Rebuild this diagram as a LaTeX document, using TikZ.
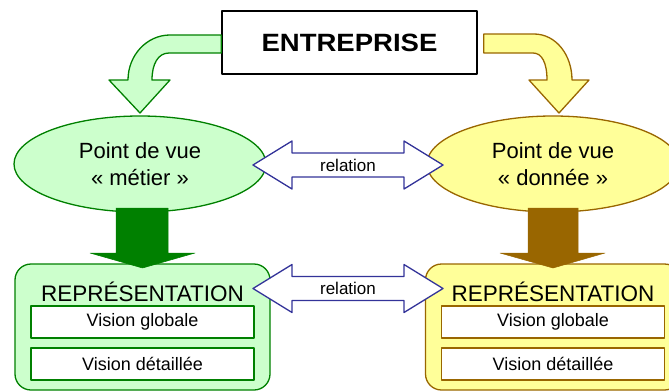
\documentclass[tikz,border=0pt]{standalone}
\usepackage{fontspec}
\setmainfont{Liberation Sans}
\usetikzlibrary{shapes.geometric}

\definecolor{mintfill}{HTML}{CCFFCC}
\definecolor{leafline}{HTML}{008000}
\definecolor{lemonfill}{HTML}{FFFF99}
\definecolor{ochreline}{HTML}{996600}
\definecolor{relblue}{HTML}{333399}

\begin{document}
\begin{tikzpicture}[x=1pt,y=-1pt,line join=round,
  titlebox/.style={draw=black,line width=1.4pt,fill=white,minimum width=255pt,
    minimum height=63pt,inner sep=0pt,font=\fontsize{25}{28}\selectfont\bfseries},
  viewpoint/.style={ellipse,minimum width=252pt,minimum height=96pt,inner sep=0pt,
    line width=1.3pt,align=center,font=\fontsize{22}{27}\selectfont},
  reprbox/.style={rounded corners=16pt,minimum width=255pt,minimum height=126pt,
    inner sep=0pt,line width=1.3pt},
  reprtitle/.style={anchor=base,inner sep=0pt,font=\fontsize{22.5}{26}\selectfont},
  visionbox/.style={fill=white,minimum width=223pt,minimum height=32pt,inner sep=0pt,
    line width=1.1pt,font=\fontsize{18}{20}\selectfont},
  bendarrow/.style={line width=1.3pt},
  downarrow/.style={line width=0.5pt},
  relarrow/.style={draw=relblue,fill=white,line width=1.3pt},
  reltext/.style={inner sep=0pt,font=\fontsize{17}{20}\selectfont},
]
\clip (0,0) rectangle (669,391);

% company box
\node[titlebox] (ent) at (349.5,42.5) {\scalebox{1.1}[1]{ENTREPRISE}};

% bent arrows towards the two viewpoints
\draw[bendarrow,draw=leafline,fill=mintfill]
  (ent.west |- 0,35) -- (170,35) .. controls (147,35) and (128,55) .. (128,80)
  -- (109,80) -- (140,113) -- (170,80) -- (152,80)
  .. controls (152,64) and (158,53) .. (169,53) -- (ent.west |- 0,53) -- cycle;
\draw[bendarrow,draw=ochreline,fill=lemonfill]
  ([xshift=6pt]ent.east |- 0,34) -- (534,34) .. controls (556,34) and (572,55) .. (572,80)
  -- (589,80) -- (559,113) -- (529,80) -- (547,80)
  .. controls (547,63) and (542,53) .. (533,53) -- ([xshift=6pt]ent.east |- 0,53) -- cycle;

% viewpoints
\node[viewpoint,draw=leafline,fill=mintfill] (metier) at (140,164)
  {Point de vue\\« métier »};
\node[viewpoint,draw=ochreline,fill=lemonfill] (donnee) at (553,164)
  {Point de vue\\« donnée »};

% representation panels
\node[reprbox,draw=leafline,fill=mintfill] (reprm) at (142.5,327) {};
\node[reprtitle] (reprmt) at (142.5,301) {REPRÉSENTATION};
\node[visionbox,draw=leafline] (globm) at (142.5,322) {Vision globale};
\node[visionbox,draw=leafline] (detm) at (142.5,364) {Vision détaillée};

\node[reprbox,draw=ochreline,fill=lemonfill] (reprd) at (553,327) {};
\node[reprtitle] (reprdt) at (553,301) {REPRÉSENTATION};
\node[visionbox,draw=ochreline] (globd) at (553,322) {Vision globale};
\node[visionbox,draw=ochreline] (detd) at (553,364) {Vision détaillée};

% flat block arrows from viewpoint to representation
\draw[downarrow,draw=leafline,fill=leafline]
  (116,208) -- (168,208) -- (168,253) -- (195,253) -- (142.5,268) -- (90,253)
  -- (116,253) -- cycle;
\draw[downarrow,draw=ochreline,fill=ochreline]
  (528,208) -- (578,208) -- (578,253) -- (605,253) -- (553,268) -- (500,253)
  -- (528,253) -- cycle;

% double block arrows labelled "relation"
\coordinate (rtop) at (348,165);
\coordinate (rbot) at (348,288.5);
\foreach \c in {rtop,rbot}{
  \draw[relarrow] (\c) ++(-95,0) -- ++(39,-24) -- ++(0,12) -- ++(112,0) -- ++(0,-12)
    -- ++(39,24) -- ++(-39,24) -- ++(0,-12) -- ++(-112,0) -- ++(0,12) -- cycle;
}
\node[reltext] (reltop) at (rtop) {relation};
\node[reltext] (relbot) at (rbot) {relation};
\end{tikzpicture}
\end{document}
